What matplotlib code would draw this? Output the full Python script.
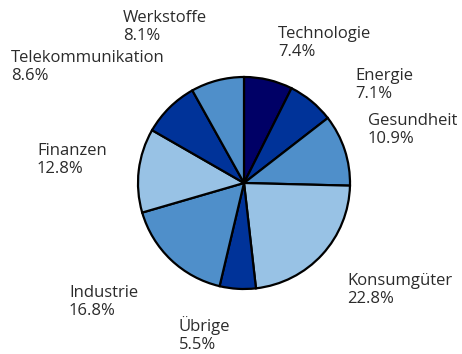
import matplotlib
matplotlib.use("Agg")
import matplotlib.pyplot as plt

sectors = ["Technologie", "Energie", "Gesundheit", "Konsumgüter", "Übrige",
           "Industrie", "Finanzen", "Telekommunikation", "Werkstoffe"]
shares = [7.4, 7.1, 10.9, 22.8, 5.5, 16.8, 12.8, 8.6, 8.1]

navy = "#000066"
dark = "#003399"
mid = "#4f8fca"
light = "#98c2e5"
colors = [navy, dark, mid, light, dark, mid, light, dark, mid]

# label anchor (left, top) in pixel space of the 462x354 canvas
label_pos = [(278, 26), (355, 68), (368, 113), (347, 273), (179, 316),
             (69, 285), (37, 143), (11, 50), (123, 10)]

fig = plt.figure(figsize=(4.62, 3.54), dpi=100)
ax = fig.add_axes([0, 0, 1, 1])
ax.set_xlim(0, 462)
ax.set_ylim(0, 354)
ax.set_aspect("equal")
ax.axis("off")

ax.pie(shares, colors=colors, startangle=90, counterclock=False,
       center=(244, 354 - 183), radius=106,
       wedgeprops=dict(edgecolor="black", linewidth=1.6))
ax.set_xlim(0, 462)
ax.set_ylim(0, 354)

for name, val, (x, y) in zip(sectors, shares, label_pos):
    ax.text(x, 354 - y, f"{name}\n{val:.1f}%", ha="left", va="top",
            fontsize=12, color="#2b2b2b", family="Open Sans", linespacing=1.15)

fig.savefig("out.png", dpi=100)
